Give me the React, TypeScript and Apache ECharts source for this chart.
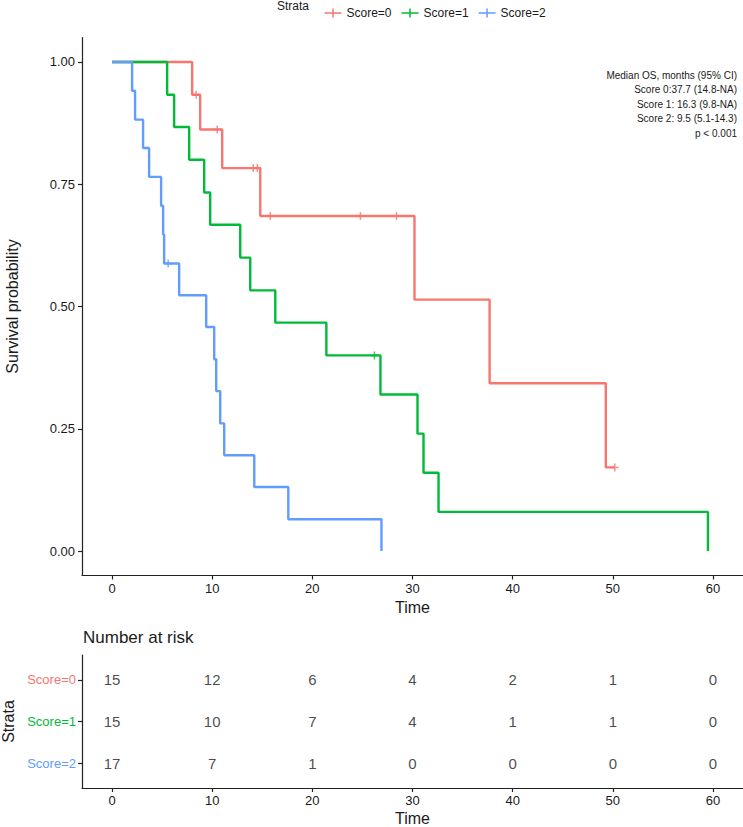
import React, { useEffect, useRef } from "react";
import * as echarts from "echarts";

const FONT = "'Liberation Sans', Arial, Helvetica, sans-serif";
const TXT = "#1a1a1a";

const strataNames = ["Score=0", "Score=1", "Score=2"];
const strataColors = ["#F8766D", "#00BA38", "#619CFF"];

// Kaplan-Meier steps (time, survival)
const time0 = [0, 8.0, 8.8, 11.0, 14.8, 30.2, 37.7, 49.3, 50.2];
const surv0 = [1, 0.933, 0.862, 0.783, 0.685, 0.514, 0.343, 0.171, 0.171];
const censorTime0 = [8.4, 10.5, 14.1, 14.5, 15.8, 24.8, 28.4, 50.2];
const censorSurv0 = [0.933, 0.862, 0.783, 0.783, 0.685, 0.685, 0.685, 0.171];

const time1 = [0, 5.5, 6.2, 7.7, 9.2, 9.8, 12.8, 13.8, 16.3, 21.4, 26.8, 30.5, 31.1, 32.6, 59.5];
const surv1 = [1, 0.933, 0.867, 0.8, 0.733, 0.667, 0.6, 0.533, 0.467, 0.4, 0.32, 0.24, 0.16, 0.08, 0];
const censorTime1 = [26.2];
const censorSurv1 = [0.4];

const time2 = [0, 2.0, 2.3, 3.1, 3.7, 4.9, 5.1, 5.2, 6.7, 9.4, 10.2, 10.4, 10.8, 11.2, 14.2, 17.6, 26.9];
const surv2 = [1, 0.941, 0.882, 0.824, 0.765, 0.706, 0.647, 0.588, 0.523, 0.458, 0.392, 0.327, 0.261, 0.196, 0.131, 0.065, 0];
const censorTime2 = [5.6];
const censorSurv2 = [0.588];

const xTicks = [0, 10, 20, 30, 40, 50, 60];
const yTicks = [0, 0.25, 0.5, 0.75, 1];

const riskTimes = [0, 10, 20, 30, 40, 50, 60];
const risk0 = [15, 12, 6, 4, 2, 1, 0];
const risk1 = [15, 10, 7, 4, 1, 1, 0];
const risk2 = [17, 7, 1, 0, 0, 0, 0];

const annotationLines = [
  "Median OS, months (95% CI)",
  "Score 0:37.7 (14.8-NA)",
  "Score 1: 16.3 (9.8-NA)",
  "Score 2: 9.5 (5.1-14.3)",
  "p < 0.001",
];

const PLUS =
  "path://M-0.75,-4 L0.75,-4 L0.75,-0.75 L4,-0.75 L4,0.75 L0.75,0.75 L0.75,4 L-0.75,4 L-0.75,0.75 L-4,0.75 L-4,-0.75 L-0.75,-0.75 Z";
const LEGEND_ICON = "path://M0,4.2 L17,4.2 L17,5.8 L0,5.8 Z M7.75,0.5 L9.25,0.5 L9.25,9.5 L7.75,9.5 Z";

export default function App() {
  const ref = useRef<HTMLDivElement>(null);
  useEffect(() => {
    if (!ref.current) return;
    const chart = echarts.init(ref.current, null, { renderer: "svg" });

    const times = [time0, time1, time2];
    const survs = [surv0, surv1, surv2];
    const cT = [censorTime0, censorTime1, censorTime2];
    const cS = [censorSurv0, censorSurv1, censorSurv2];
    const risks = [risk0, risk1, risk2];

    const series: any[] = [];
    strataNames.forEach((name, i) => {
      series.push({
        name,
        type: "line",
        xAxisIndex: 0,
        yAxisIndex: 0,
        step: "end",
        showSymbol: false,
        symbol: "none",
        data: times[i].map((t, k) => [t, survs[i][k]]),
        lineStyle: { color: strataColors[i], width: 2.4 },
        itemStyle: { color: strataColors[i] },
        z: 2 + i,
      });
      series.push({
        name,
        type: "scatter",
        xAxisIndex: 0,
        yAxisIndex: 0,
        symbol: PLUS,
        symbolSize: 8,
        data: cT[i].map((t, k) => [t, cS[i][k]]),
        itemStyle: { color: strataColors[i] },
        z: 2 + i,
      });
      series.push({
        name: "risk" + i,
        type: "scatter",
        xAxisIndex: 1,
        yAxisIndex: 1,
        symbol: "circle",
        symbolSize: 2,
        itemStyle: { color: "rgba(255,255,255,0)" },
        data: riskTimes.map((t, k) => [t, 3 - i, risks[i][k]]),
        label: {
          show: true,
          position: "inside",
          formatter: (p: any) => String(p.value[2]),
          fontSize: 15,
          fontFamily: FONT,
          color: TXT,
        },
      });
    });

    const axisLine = { show: true, onZero: false, lineStyle: { color: "#222", width: 1.2 } };
    const axisTick = (vals: number[]) => ({
      show: true,
      length: 4,
      customValues: vals,
      lineStyle: { color: "#222", width: 1.2 },
    });

    const rowLabel: Record<number, string> = { 3: "s0", 2: "s1", 1: "s2" };

    const option: any = {
      animation: false,
      backgroundColor: "#fff",
      textStyle: { fontFamily: FONT },
      legend: {
        left: 319.5,
        top: 2,
        itemWidth: 17,
        itemHeight: 10,
        itemGap: 10,
        textStyle: { fontSize: 12, fontFamily: FONT, color: TXT },
        data: strataNames.map((n, i) => ({
          name: n,
          icon: LEGEND_ICON,
          itemStyle: { color: strataColors[i], borderWidth: 0 },
        })),
        selectedMode: false,
      },
      grid: [
        { left: 82, top: 37.5, width: 661, height: 538, containLabel: false, outerBoundsMode: "none" },
        { left: 82, top: 655, width: 661, height: 133, containLabel: false, outerBoundsMode: "none" },
      ],
      xAxis: [
        {
          type: "value",
          gridIndex: 0,
          min: -3,
          max: 63,
          splitLine: { show: false },
          axisLine,
          axisTick: axisTick(xTicks),
          axisLabel: {
            customValues: xTicks,
            margin: 6,
            fontSize: 13,
            fontFamily: FONT,
            color: TXT,
          },
          name: "Time",
          nameLocation: "middle",
          nameGap: 22,
          nameTextStyle: { fontSize: 16, fontFamily: FONT, color: TXT },
        },
        {
          type: "value",
          gridIndex: 1,
          min: -3,
          max: 63,
          splitLine: { show: false },
          axisLine,
          axisTick: axisTick(riskTimes),
          axisLabel: {
            customValues: riskTimes,
            margin: 6,
            fontSize: 13,
            fontFamily: FONT,
            color: TXT,
          },
          name: "Time",
          nameLocation: "middle",
          nameGap: 22,
          nameTextStyle: { fontSize: 16, fontFamily: FONT, color: TXT },
        },
      ],
      yAxis: [
        {
          type: "value",
          gridIndex: 0,
          min: -0.05,
          max: 1.05,
          splitLine: { show: false },
          axisLine,
          axisTick: axisTick(yTicks),
          axisLabel: {
            customValues: yTicks,
            margin: 7,
            fontSize: 13,
            fontFamily: FONT,
            color: TXT,
            formatter: (v: number) => v.toFixed(2),
          },
          name: "Survival probability",
          nameLocation: "middle",
          nameGap: 62,
          nameTextStyle: { fontSize: 16, fontFamily: FONT, color: TXT },
        },
        {
          type: "value",
          gridIndex: 1,
          min: 0.4,
          max: 3.6,
          splitLine: { show: false },
          axisLine,
          axisTick: axisTick([1, 2, 3]),
          axisLabel: {
            customValues: [1, 2, 3],
            margin: 6,
            fontSize: 13,
            fontFamily: FONT,
            formatter: (v: number) => {
              const key = rowLabel[Math.round(v)];
              const idx = 3 - Math.round(v);
              return `{${key}|${strataNames[idx]}}`;
            },
            rich: {
              s0: { color: strataColors[0], fontSize: 13, fontFamily: FONT },
              s1: { color: strataColors[1], fontSize: 13, fontFamily: FONT },
              s2: { color: strataColors[2], fontSize: 13, fontFamily: FONT },
            },
          },
          name: "Strata",
          nameLocation: "middle",
          nameGap: 66,
          nameTextStyle: { fontSize: 16, fontFamily: FONT, color: TXT },
        },
      ],
      graphic: [
        {
          type: "text",
          left: 277,
          top: 0,
          style: { text: "Strata", fontSize: 12, fontFamily: FONT, fill: TXT },
        },
        {
          type: "text",
          x: 83,
          y: 637,
          style: {
            text: "Number at risk",
            fontSize: 17,
            fontFamily: FONT,
            fill: TXT,
            verticalAlign: "middle",
          },
        },
        ...annotationLines.map((t, i) => ({
          type: "text",
          x: 737,
          y: 75 + i * 14.5,
          style: {
            text: t,
            fontSize: 10,
            fontFamily: FONT,
            fill: TXT,
            align: "right",
            verticalAlign: "middle",
          },
        })),
      ],
      series,
    };
    chart.setOption(option);
    return () => chart.dispose();
  }, []);
  return (
    <div
      ref={ref}
      style={{ position: "fixed", left: 0, top: 0, width: 743, height: 827, background: "#fff" }}
    />
  );
}
